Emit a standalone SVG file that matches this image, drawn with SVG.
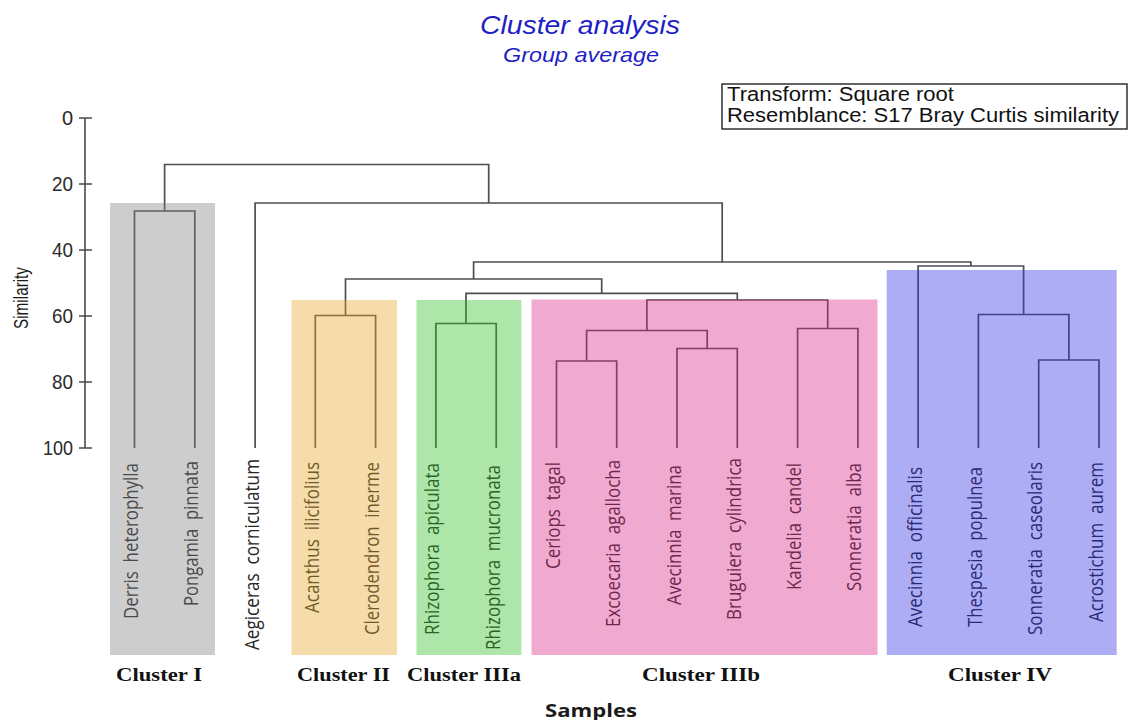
<svg xmlns="http://www.w3.org/2000/svg" width="1131" height="720" viewBox="0 0 1131 720">
  <style>
    .title { font-family: "Liberation Sans", Arial, sans-serif; font-style: italic; fill: #1f1fc6; text-anchor: middle; }
    .legend { font-family: "Liberation Sans", Arial, sans-serif; font-size: 19.5px; fill: #111; }
    .tick { font-family: "Liberation Sans", Arial, sans-serif; font-size: 20px; fill: #2a2a2a; text-anchor: end; }
    .axis-title { font-family: "Liberation Sans", Arial, sans-serif; font-size: 17.5px; fill: #1a1a1a; text-anchor: middle; }
    .leaf { font-family: "Open Sans", "Noto Sans", sans-serif; font-size: 18px; fill: #262626; text-anchor: end; }
    .cluster { font-family: "Liberation Serif", "Times New Roman", serif; font-weight: bold; font-size: 18px; fill: #111; text-anchor: middle; }
    .xlab { font-family: "Open Sans", "Noto Sans", sans-serif; font-weight: bold; font-size: 18px; fill: #1a1a1a; text-anchor: middle; }
    .axis { stroke: #4a4a4a; stroke-width: 1.6; fill: none; }
    .link { stroke: #4e4e4e; stroke-width: 1.7; fill: none; stroke-linejoin: miter; }
    .band { fill-opacity: 0.4; stroke: none; }
  </style>

  <!-- Title -->
  <g id="title">
    <text class="title" x="580" y="34" font-size="25" textLength="200" lengthAdjust="spacingAndGlyphs">Cluster analysis</text>
    <text class="title" x="581" y="62" font-size="21" textLength="156" lengthAdjust="spacingAndGlyphs">Group average</text>
  </g>

  <!-- Legend -->
  <g id="legend">
    <rect x="722" y="84" width="405" height="45" fill="#fff" stroke="#222" stroke-width="1.4"/>
    <text class="legend" x="727" y="101" textLength="227" lengthAdjust="spacingAndGlyphs">Transform: Square root</text>
    <text class="legend" x="727" y="122" textLength="392" lengthAdjust="spacingAndGlyphs">Resemblance: S17 Bray Curtis similarity</text>
  </g>

  <!-- Similarity axis -->
  <g id="y-axis">
    <path class="axis" d="M85 118V448M79 118H92M79 184H92M79 250H92M79 316H92M79 382H92M79 448H92"/>
    <text class="tick" x="73" y="125">0</text>
    <text class="tick" x="73" y="191" textLength="21" lengthAdjust="spacingAndGlyphs">20</text>
    <text class="tick" x="73" y="257" textLength="21" lengthAdjust="spacingAndGlyphs">40</text>
    <text class="tick" x="73" y="323" textLength="21" lengthAdjust="spacingAndGlyphs">60</text>
    <text class="tick" x="73" y="389" textLength="21" lengthAdjust="spacingAndGlyphs">80</text>
    <text class="tick" x="73" y="455" textLength="30" lengthAdjust="spacingAndGlyphs">100</text>
    <text class="axis-title" transform="translate(28,298) rotate(-90) scale(1,1.13)" textLength="62" lengthAdjust="spacingAndGlyphs">Similarity</text>
  </g>

  <!-- Dendrogram links -->
  <g id="connectors">
    <!-- Derris + Pongamia -->
    <path class="link" d="M134.5 448V211H194.8V448"/>
    <!-- Ceriops + Excoecaria -->
    <path class="link" d="M556.5 448V361H616.7V448"/>
    <!-- Avecinnia marina + Bruguiera -->
    <path class="link" d="M677 448V348.5H737.3V448"/>
    <!-- (Ceriops, Excoecaria) + (Avecinnia, Bruguiera) -->
    <path class="link" d="M586.6 361V330.5H707.2V348.5"/>
    <!-- Kandelia + Sonneratia alba -->
    <path class="link" d="M797.6 448V328.5H857.9V448"/>
    <!-- Cluster IIIb root -->
    <path class="link" d="M646.9 330.5V300H827.7V328.5"/>
    <!-- Rhizophora pair -->
    <path class="link" d="M435.9 448V323.5H496.2V448"/>
    <!-- IIIa + IIIb -->
    <path class="link" d="M466 323.5V293.3H737.3V300"/>
    <!-- Acanthus + Clerodendron -->
    <path class="link" d="M315.3 448V315.5H375.6V448"/>
    <!-- II + III -->
    <path class="link" d="M345.5 315.5V279H601.7V293.3"/>
    <!-- Sonneratia caseolaris + Acrostichum -->
    <path class="link" d="M1038.7 448V360H1099V448"/>
    <!-- Thespesia + (S. caseolaris, Acrostichum) -->
    <path class="link" d="M978.4 448V314.5H1068.9V360"/>
    <!-- Cluster IV root -->
    <path class="link" d="M918.1 448V266H1023.6V314.5"/>
    <!-- (II, III) + IV -->
    <path class="link" d="M473.6 279V262H970.9V266"/>
    <!-- Aegiceras + rest -->
    <path class="link" d="M255.1 448V203H722.2V262"/>
    <!-- Cluster I + rest -->
    <path class="link" d="M164.6 211V164.5H488.7V203"/>
  </g>

  <!-- Sample labels (read bottom-to-top, glyphs widened across the column) -->
  <g id="leaf-derris"><text class="leaf" xml:space="preserve" transform="translate(138,463) rotate(-90) scale(1,1.13)" textLength="156" lengthAdjust="spacingAndGlyphs">Derris  heterophylla</text></g>
  <g id="leaf-pongamia"><text class="leaf" xml:space="preserve" transform="translate(198.3,461) rotate(-90) scale(1,1.13)" textLength="145" lengthAdjust="spacingAndGlyphs">Pongamia  pinnata</text></g>
  <g id="leaf-aegiceras"><text class="leaf" xml:space="preserve" transform="translate(258.6,459) rotate(-90) scale(1,1.13)" textLength="191" lengthAdjust="spacingAndGlyphs">Aegiceras  corniculatum</text></g>
  <g id="leaf-acanthus"><text class="leaf" xml:space="preserve" transform="translate(318.8,462) rotate(-90) scale(1,1.13)" textLength="151" lengthAdjust="spacingAndGlyphs">Acanthus  ilicifolius</text></g>
  <g id="leaf-clerodendron"><text class="leaf" xml:space="preserve" transform="translate(379.1,462) rotate(-90) scale(1,1.13)" textLength="173" lengthAdjust="spacingAndGlyphs">Clerodendron  inerme</text></g>
  <g id="leaf-rhizophora-apiculata"><text class="leaf" xml:space="preserve" transform="translate(439.4,463) rotate(-90) scale(1,1.13)" textLength="172" lengthAdjust="spacingAndGlyphs">Rhizophora  apiculata</text></g>
  <g id="leaf-rhizophora-mucronata"><text class="leaf" xml:space="preserve" transform="translate(499.7,465) rotate(-90) scale(1,1.13)" textLength="185" lengthAdjust="spacingAndGlyphs">Rhizophora  mucronata</text></g>
  <g id="leaf-ceriops"><text class="leaf" xml:space="preserve" transform="translate(560,462) rotate(-90) scale(1,1.13)" textLength="107" lengthAdjust="spacingAndGlyphs">Ceriops  tagal</text></g>
  <g id="leaf-excoecaria"><text class="leaf" xml:space="preserve" transform="translate(620.2,460) rotate(-90) scale(1,1.13)" textLength="167" lengthAdjust="spacingAndGlyphs">Excoecaria  agallocha</text></g>
  <g id="leaf-avecinnia-marina"><text class="leaf" xml:space="preserve" transform="translate(680.5,465) rotate(-90) scale(1,1.13)" textLength="140" lengthAdjust="spacingAndGlyphs">Avecinnia  marina</text></g>
  <g id="leaf-bruguiera"><text class="leaf" xml:space="preserve" transform="translate(740.8,458) rotate(-90) scale(1,1.13)" textLength="162" lengthAdjust="spacingAndGlyphs">Bruguiera  cylindrica</text></g>
  <g id="leaf-kandelia"><text class="leaf" xml:space="preserve" transform="translate(801.1,463) rotate(-90) scale(1,1.13)" textLength="127" lengthAdjust="spacingAndGlyphs">Kandelia  candel</text></g>
  <g id="leaf-sonneratia-alba"><text class="leaf" xml:space="preserve" transform="translate(861.4,463) rotate(-90) scale(1,1.13)" textLength="128" lengthAdjust="spacingAndGlyphs">Sonneratia  alba</text></g>
  <g id="leaf-avecinnia-officinalis"><text class="leaf" xml:space="preserve" transform="translate(921.6,467) rotate(-90) scale(1,1.13)" textLength="160" lengthAdjust="spacingAndGlyphs">Avecinnia  officinalis</text></g>
  <g id="leaf-thespesia"><text class="leaf" xml:space="preserve" transform="translate(981.9,467) rotate(-90) scale(1,1.13)" textLength="160" lengthAdjust="spacingAndGlyphs">Thespesia  populnea</text></g>
  <g id="leaf-sonneratia-caseolaris"><text class="leaf" xml:space="preserve" transform="translate(1042.2,462) rotate(-90) scale(1,1.13)" textLength="173" lengthAdjust="spacingAndGlyphs">Sonneratia  caseolaris</text></g>
  <g id="leaf-acrostichum"><text class="leaf" xml:space="preserve" transform="translate(1102.5,462) rotate(-90) scale(1,1.13)" textLength="160" lengthAdjust="spacingAndGlyphs">Acrostichum  aurem</text></g>

  <!-- Translucent cluster bands laid over the tree -->
  <g id="cluster-I">
    <rect class="band" x="110" y="203" width="105" height="452" fill="#828282"/>
    <text class="cluster" x="159" y="681" textLength="86" lengthAdjust="spacingAndGlyphs">Cluster I</text>
  </g>
  <g id="cluster-II">
    <rect class="band" x="291.5" y="300" width="105.5" height="355" fill="#e6a82b"/>
    <text class="cluster" x="343.5" y="681" textLength="93" lengthAdjust="spacingAndGlyphs">Cluster II</text>
  </g>
  <g id="cluster-IIIa">
    <rect class="band" x="416.5" y="300" width="104.8" height="355" fill="#32c126"/>
    <text class="cluster" x="464" y="681" textLength="114" lengthAdjust="spacingAndGlyphs">Cluster IIIa</text>
  </g>
  <g id="cluster-IIIb">
    <rect class="band" x="531.5" y="299.5" width="346" height="355.5" fill="#da2b8a"/>
    <text class="cluster" x="701" y="681" textLength="118" lengthAdjust="spacingAndGlyphs">Cluster IIIb</text>
  </g>
  <g id="cluster-IV">
    <rect class="band" x="886.7" y="270" width="230" height="385" fill="#3232e6"/>
    <text class="cluster" x="1000" y="681" textLength="104" lengthAdjust="spacingAndGlyphs">Cluster IV</text>
  </g>

  <g id="x-title">
    <text class="xlab" x="591" y="717" textLength="92" lengthAdjust="spacingAndGlyphs">Samples</text>
  </g>
</svg>
